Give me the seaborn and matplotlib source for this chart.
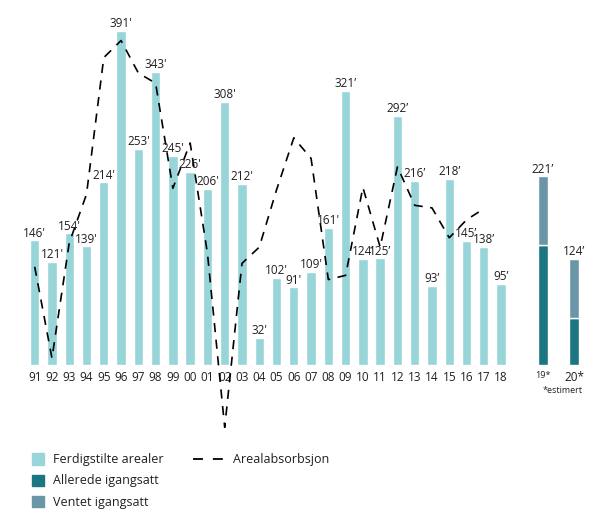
import numpy as np
import seaborn as sns
import matplotlib.pyplot as plt
from matplotlib.patches import Patch
from matplotlib.lines import Line2D

# completed space per year (thousand sqm)
years = ["91", "92", "93", "94", "95", "96", "97", "98", "99", "00", "01", "02", "03", "04",
         "05", "06", "07", "08", "09", "10", "11", "12", "13", "14", "15", "16", "17", "18"]
completed = [146, 121, 154, 139, 214, 391, 253, 343, 245, 226, 206, 308, 212, 32,
             102, 91, 109, 161, 321, 124, 125, 292, 216, 93, 218, 145, 138, 95]
value_labels = ["146'", "121'", "154'", "139'", "214'", "391'", "253'", "343'", "245'", "226'",
                "206'", "308'", "212'", "32'", "102'", "91'", "109'", "161'", "321’", "124’",
                "125’", "292’", "216’", "93’", "218’", "145’", "138’", "95’"]

# absorption line, 91-17
absorption = [115, 8, 143, 200, 360, 380, 342, 330, 207, 260, 131, -73, 119, 138,
              205, 266, 242, 100, 105, 208, 138, 232, 187, 184, 149, 170, 183]

# forecast years
forecast_labels = ["19*", "20*"]
forecast_started = [140, 55]
forecast_expected = [81, 69]
forecast_value_labels = ["221’", "124’"]

light = "#97d5d9"
dark = "#1b7682"
mid = "#6a96a8"
txt = "#231f20"

sns.set_style("white")
plt.rcParams["font.family"] = ["Open Sans", "DejaVu Sans"]

fig = plt.figure(figsize=(6.09, 5.14), dpi=100)
ax = fig.add_axes([0.0286, 0.157, 0.936, 0.814])

sns.barplot(x=years, y=completed, color=light, saturation=1, width=0.54, ax=ax)

fpos = [29.43, 31.23]
ax.bar(fpos, forecast_started, width=0.54, color=dark)
ax.bar(fpos, forecast_expected, bottom=forecast_started, width=0.54, color=mid)

ax.plot(np.arange(len(absorption)), absorption, color="black", lw=1.2,
        linestyle=(0, (5.5, 4.5)))

for i, (v, lab) in enumerate(zip(completed, value_labels)):
    ax.annotate(lab, (i, v), xytext=(0, 0.5), textcoords="offset points",
                ha="center", va="bottom", fontsize=8.5, color=txt)
for p, s, e, lab in zip(fpos, forecast_started, forecast_expected, forecast_value_labels):
    ax.annotate(lab, (p, s + e), xytext=(0, 0.5), textcoords="offset points",
                ha="center", va="bottom", fontsize=8.5, color=txt)

sns.despine(ax=ax, left=True, bottom=True)
# tick labels sit right under the zero line
ax.spines["bottom"].set_position(("data", 0))
ax.spines["bottom"].set_visible(False)

ax.set_xticks(list(range(len(years))) + fpos)
ax.set_xticklabels(years + forecast_labels, fontsize=8.5, color=txt)
ax.get_xticklabels()[-2].set_fontsize(6.5)
ax.tick_params(axis="x", length=0, pad=4)
ax.set_yticks([])
ax.set_xlim(-1, 32)
ax.set_ylim(-80, 410)
ax.set_xlabel("")
ax.set_ylabel("")

ax.text(31.7, -30, "*estimert", ha="right", va="center", fontsize=6.5, color=txt)

patches = [Patch(color=light, label="Ferdigstilte arealer"),
           Patch(color=dark, label="Allerede igangsatt"),
           Patch(color=mid, label="Ventet igangsatt")]
fig.legend(handles=patches, loc="upper left", bbox_to_anchor=(0.0525, 0.118),
           frameon=False, fontsize=9, handlelength=1, handleheight=1,
           handletextpad=0.7, labelspacing=0.65, borderaxespad=0, borderpad=0,
           labelcolor=txt)
fig.legend(handles=[Line2D([], [], color="black", lw=1.3, linestyle=(0, (5.5, 5.5)))],
           labels=["Arealabsorbsjon"], loc="upper left", bbox_to_anchor=(0.317, 0.118),
           frameon=False, fontsize=9, handlelength=2.4, handletextpad=0.8,
           borderaxespad=0, borderpad=0, labelcolor=txt)

fig.savefig("out.png", dpi=100)
